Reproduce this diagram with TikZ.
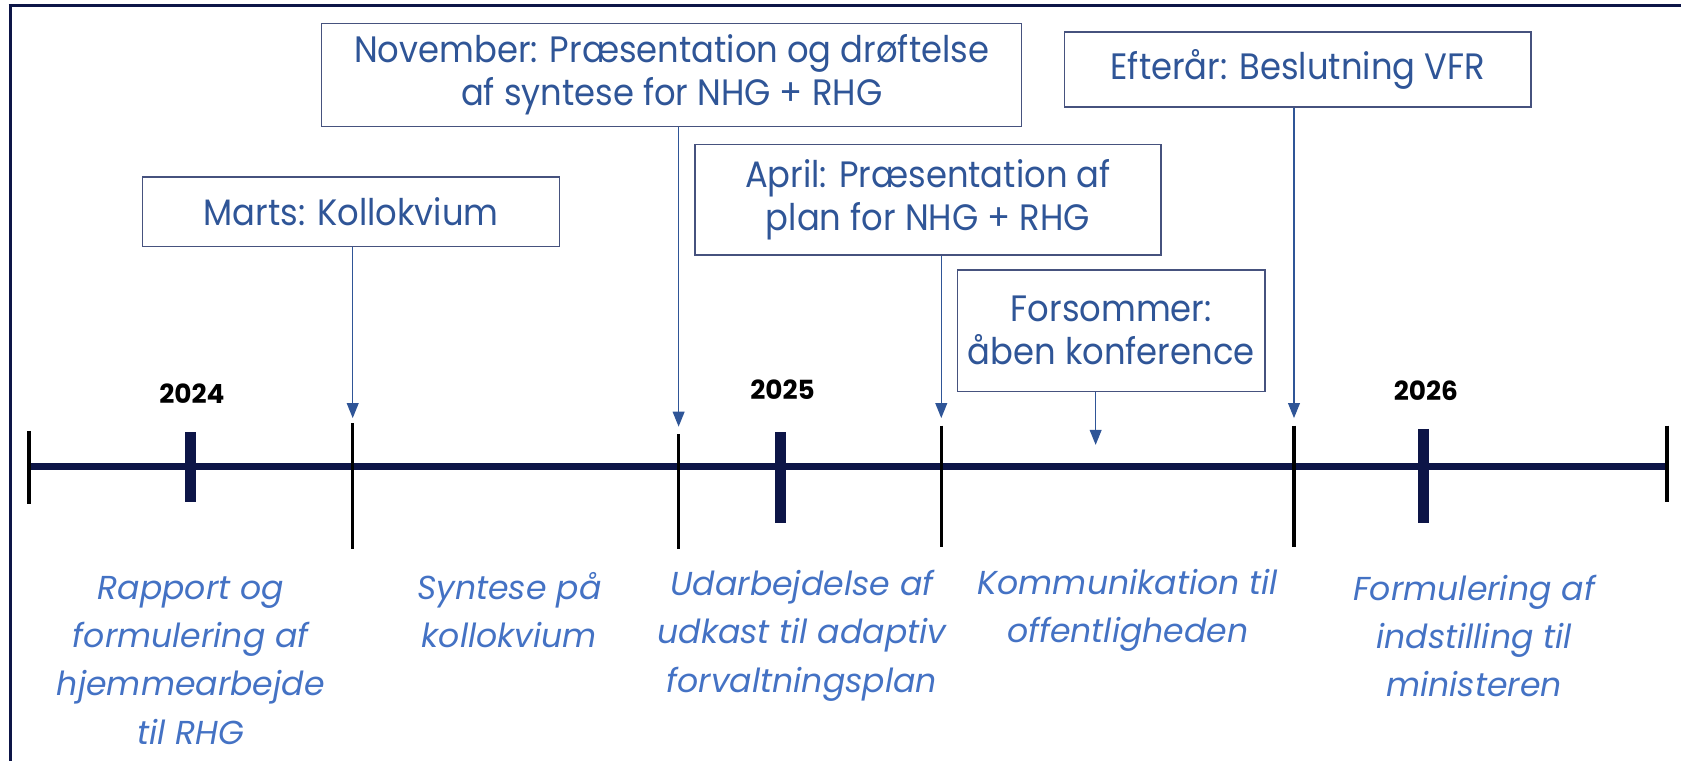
\documentclass[tikz,border=0pt]{standalone}
\usepackage{fontspec}
\setmainfont{Poppins}
\newfontfamily\boxfont[FakeStretch=0.92]{Poppins}
\usetikzlibrary{arrows.meta}

\definecolor{navy}{HTML}{0D1547}
\definecolor{boxline}{HTML}{46527E}
\definecolor{boxtext}{HTML}{2F5597}
\definecolor{pointblue}{HTML}{2F5597}
\definecolor{phasetext}{HTML}{4472C4}

\begin{document}
\begin{tikzpicture}
		[x=0.02cm, y=-0.02cm,
		event/.style={draw=boxline, line width=0.8pt, text=boxtext, align=center, inner sep=0pt, font=\boxfont\fontsize{19.5}{22.8}\selectfont},
		phase/.style={text=phasetext, align=center, font=\fontsize{17.6}{25.6}\selectfont\itshape},
		year/.style={font=\fontsize{14}{16}\selectfont\bfseries},
		pointer/.style={draw=pointblue, line width=0.7pt, -{Triangle[length=0.28cm, width=0.22cm]}},
		axis/.style={draw=navy, line width=0.14cm},
		yeartick/.style={draw=navy, line width=0.2cm},
		monthtick/.style={draw=black, line width=0.06cm},
		frame/.style={draw=navy, line width=0.05cm}]
		\useasboundingbox (0,0) rectangle (1568,710);
		\draw[frame] (8,5) -- (1568,5);
		\draw[frame] (10,5) -- (10,710);

		\draw[axis] (27,435) -- (1555,435);
		\draw[monthtick] (27,402) -- (27,470);
		\draw[monthtick] (1555,397) -- (1555,468);
		\draw[yeartick] (178,403) -- (178,468);
		\draw[yeartick] (728,403) -- (728,488);
		\draw[yeartick] (1328,400) -- (1328,488);
		\draw[monthtick] (329,395) -- (329,512);
		\draw[monthtick] (633,405) -- (633,512);
		\draw[monthtick] (878,397) -- (878,510);
		\draw[monthtick] (1207,397) -- (1207,510);

		\node[year] (y2024) at (179,367) {2024};
		\node[year] (y2025) at (730,363) {2025};
		\node[year] (y2026) at (1330,364) {2026};

		\node[event, minimum width=7.78cm, minimum height=1.3cm] (marts) at (327.5,197.5) {Marts: Kollokvium};
		\node[event, minimum width=13.06cm, minimum height=1.92cm] (nov) at (626.5,70) {November: Præsentation og drøftelse\\af syntese for NHG + RHG};
		\node[event, minimum width=8.7cm, minimum height=2.06cm] (april) at (865.5,186.5) {April: Præsentation af\\plan for NHG + RHG};
		\node[event, minimum width=5.74cm, minimum height=2.26cm] (forsommer) at (1036.5,308.5) {Forsommer:\\åben konference};
		\node[event, minimum width=8.7cm, minimum height=1.4cm] (efterar) at (1210.5,65) {Efterår: Beslutning VFR};

		\coordinate (tmarts) at (329,390);
		\coordinate (tnov) at (633,398);
		\coordinate (tapril) at (878,390);
		\coordinate (tforsommer) at (1022,415);
		\coordinate (tefterar) at (1207,390);

		\draw[pointer] (marts.south -| tmarts) -- (tmarts);
		\draw[pointer] (nov.south -| tnov) -- (tnov);
		\draw[pointer] (april.south -| tapril) -- (tapril);
		\draw[pointer] (forsommer.south -| tforsommer) -- (tforsommer);
		\draw[pointer] (efterar.south -| tefterar) -- (tefterar);

		\node[phase] (rapport) at (178,616) {Rapport og\\formulering af\\hjemmearbejde\\til RHG};
		\node[phase] (syntese) at (475,569) {Syntese på\\kollokvium};
		\node[phase] (udkast) at (748,593) {Udarbejdelse af\\udkast til adaptiv\\forvaltningsplan};
		\node[phase] (kommunikation) at (1052,569) {Kommunikation til\\offentligheden};
		\node[phase] (indstilling) at (1375,593) {Formulering af\\indstilling til\\ministeren};
	\end{tikzpicture}
\end{document}
